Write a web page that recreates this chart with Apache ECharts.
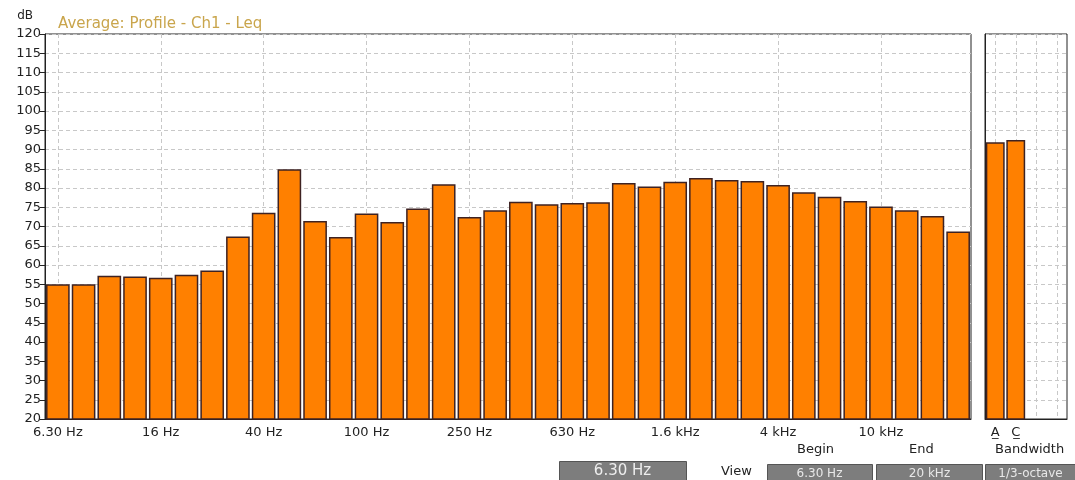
<!DOCTYPE html>
<html>
<head>
<meta charset="utf-8">
<script src="https://cdn.jsdelivr.net/npm/echarts@6/dist/echarts.min.js"></script>
<style>
  html, body { margin: 0; padding: 0; background: #fff; }
  #chart { width: 1075px; height: 480px; }
</style>
</head>
<body>
<div id="chart"></div>
<script>
// 1/3-octave bands, 6.3 Hz .. 20 kHz
var bands = ['6.30 Hz', '8 Hz', '10 Hz', '12.5 Hz', '16 Hz', '20 Hz', '25 Hz', '31.5 Hz',
  '40 Hz', '50 Hz', '63 Hz', '80 Hz', '100 Hz', '125 Hz', '160 Hz', '200 Hz',
  '250 Hz', '315 Hz', '400 Hz', '500 Hz', '630 Hz', '800 Hz', '1 kHz', '1.25 kHz',
  '1.6 kHz', '2 kHz', '2.5 kHz', '3.15 kHz', '4 kHz', '5 kHz', '6.3 kHz', '8 kHz',
  '10 kHz', '12.5 kHz', '16 kHz', '20 kHz']
var leq = [55.0, 55.0, 57.2, 57.0, 56.7, 57.5, 58.6, 67.4,
  73.6, 84.9, 71.4, 67.3, 73.4, 71.2, 74.7, 81.0,
  72.5, 74.2, 76.4, 75.8, 76.1, 76.3, 81.3, 80.4,
  81.6, 82.6, 82.1, 81.8, 80.8, 78.9, 77.7, 76.6,
  75.2, 74.2, 72.7, 68.7]

// overall weighted levels
var weightNames = ['A\u0332', 'C\u0332', '', '']
var weightValues = [91.9, 92.5, null, null]

var yMin = 20
var yMax = 120
var yStep = 5

var font = 'DejaVu Sans'
var barStyle = {
  color: '#ff8000',
  borderColor: '#3e2222',
  borderWidth: 1.5
}
var dashed = { color: '#c8c8c8', type: [4, 3], width: 1 }

var chart = echarts.init(document.getElementById('chart'))
var option = {
  animation: false,
  backgroundColor: '#ffffff',
  textStyle: { fontFamily: font },
  title: {
    text: 'Average: Profile - Ch1 - Leq',
    left: 53,
    top: 12,
    textStyle: { color: '#c9a54c', fontSize: 15, fontWeight: 'normal', fontFamily: font }
  },
  grid: [
    { left: 45, right: 104, top: 34, bottom: 61, show: true, borderColor: '#222', borderWidth: 1 },
    { left: 985, right: 8, top: 34, bottom: 61, show: true, borderColor: '#222', borderWidth: 1 }
  ],
  xAxis: [
    {
      type: 'category',
      gridIndex: 0,
      data: bands,
      axisLine: { lineStyle: { color: '#222' } },
      axisTick: { interval: 3, alignWithLabel: true, length: 5, lineStyle: { color: '#222' } },
      axisLabel: { interval: 3, color: '#222', fontSize: 13, margin: 7 },
      splitLine: { show: true, interval: 3, alignWithLabel: true, lineStyle: dashed }
    },
    {
      type: 'category',
      gridIndex: 1,
      data: weightNames,
      axisLine: { lineStyle: { color: '#222' } },
      axisTick: { alignWithLabel: true, length: 5, lineStyle: { color: '#222' } },
      axisLabel: { interval: 0, color: '#222', fontSize: 13, margin: 7 },
      splitLine: { show: true, alignWithLabel: true, lineStyle: dashed }
    }
  ],
  yAxis: [
    {
      type: 'value',
      gridIndex: 0,
      min: yMin,
      max: yMax,
      interval: yStep,
      name: 'dB',
      nameLocation: 'end',
      nameGap: 12,
      nameTextStyle: { color: '#222', fontSize: 12, align: 'right', padding: [0, 12, 0, 0] },
      axisLine: { show: true, lineStyle: { color: '#222' } },
      axisTick: { show: true, length: 5, lineStyle: { color: '#222' } },
      axisLabel: { color: '#222', fontSize: 13, margin: 4 },
      splitLine: { show: true, lineStyle: dashed }
    },
    {
      type: 'value',
      gridIndex: 1,
      min: yMin,
      max: yMax,
      interval: yStep,
      axisLine: { show: true, lineStyle: { color: '#222' } },
      axisTick: { show: false },
      axisLabel: { show: false },
      splitLine: { show: true, lineStyle: dashed }
    }
  ],
  series: [
    {
      type: 'bar',
      xAxisIndex: 0,
      yAxisIndex: 0,
      data: leq,
      barCategoryGap: '8%',
      itemStyle: barStyle
    },
    {
      type: 'bar',
      xAxisIndex: 1,
      yAxisIndex: 1,
      data: weightValues,
      barCategoryGap: '8%',
      itemStyle: barStyle
    }
  ],
  graphic: [
    { type: 'text', left: 797, top: 443, style: { text: 'Begin', fill: '#222', font: '13px DejaVu Sans' } },
    { type: 'text', left: 909, top: 443, style: { text: 'End', fill: '#222', font: '13px DejaVu Sans' } },
    { type: 'text', left: 995, top: 443, style: { text: 'Bandwidth', fill: '#222', font: '13px DejaVu Sans' } },
    { type: 'text', left: 721, top: 465, style: { text: 'View', fill: '#222', font: '13px DejaVu Sans' } },
    {
      type: 'group', left: 559, top: 461,
      children: [
        { type: 'rect', shape: { x: 0, y: 0, width: 127, height: 20 }, style: { fill: '#7d7d7d', stroke: '#555', lineWidth: 1 } },
        { type: 'text', x: 63, y: 10, style: { text: '6.30 Hz', fill: '#eeeeee', font: '15px DejaVu Sans', align: 'center', verticalAlign: 'middle' } }
      ]
    },
    {
      type: 'group', left: 767, top: 464,
      children: [
        { type: 'rect', shape: { x: 0, y: 0, width: 105, height: 17 }, style: { fill: '#7d7d7d', stroke: '#555', lineWidth: 1 } },
        { type: 'text', x: 52, y: 9, style: { text: '6.30 Hz', fill: '#e8e8e8', font: '12px DejaVu Sans', align: 'center', verticalAlign: 'middle' } }
      ]
    },
    {
      type: 'group', left: 876, top: 464,
      children: [
        { type: 'rect', shape: { x: 0, y: 0, width: 106, height: 17 }, style: { fill: '#7d7d7d', stroke: '#555', lineWidth: 1 } },
        { type: 'text', x: 53, y: 9, style: { text: '20 kHz', fill: '#e8e8e8', font: '12px DejaVu Sans', align: 'center', verticalAlign: 'middle' } }
      ]
    },
    {
      type: 'group', left: 985, top: 464,
      children: [
        { type: 'rect', shape: { x: 0, y: 0, width: 90, height: 17 }, style: { fill: '#7d7d7d', stroke: '#555', lineWidth: 1 } },
        { type: 'text', x: 45, y: 9, style: { text: '1/3-octave', fill: '#e8e8e8', font: '12px DejaVu Sans', align: 'center', verticalAlign: 'middle' } }
      ]
    }
  ]
}
chart.setOption(option)
</script>
</body>
</html>
